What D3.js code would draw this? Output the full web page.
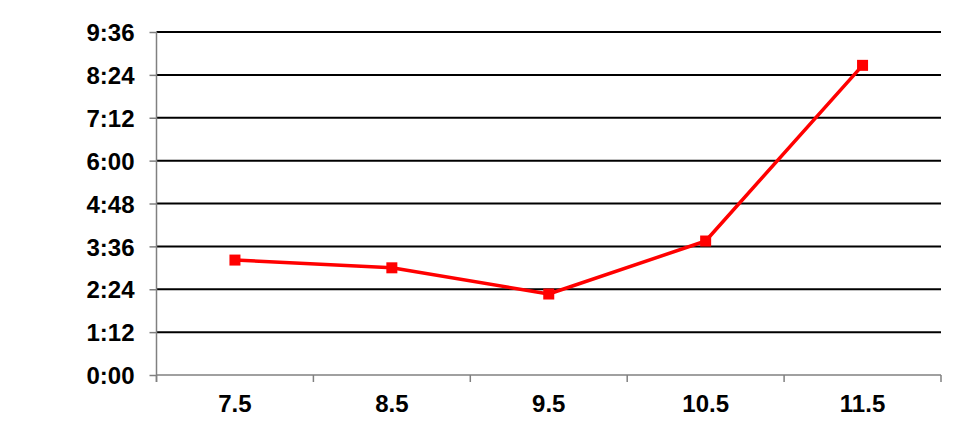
<!DOCTYPE html>
<html>
<head>
<meta charset="utf-8">
<script src="https://cdn.jsdelivr.net/npm/d3@7/dist/d3.min.js"></script>
<style>
  html, body { margin: 0; padding: 0; background: #fff; }
  svg text { font-family: "Liberation Sans", Arial, sans-serif; font-weight: bold; font-size: 24px; fill: #000; }
</style>
</head>
<body>
<svg id="chart" width="972" height="440"></svg>
<script>
const categories = ["7.5", "8.5", "9.5", "10.5", "11.5"];
const durations = ["3:13", "3:00", "2:16", "3:45", "8:40"];
const yTickLabels = ["0:00", "1:12", "2:24", "3:36", "4:48", "6:00", "7:12", "8:24", "9:36"];

const toMin = s => { const [h, m] = s.split(":").map(Number); return h * 60 + m; };
const values = durations.map(toMin);
const yTicks = yTickLabels.map(toMin);

const margin = { top: 32, right: 31, bottom: 65, left: 156.5 };
const W = 972, H = 440;
const svg = d3.select("#chart");

const x = d3.scaleBand().domain(categories).range([margin.left, W - margin.right]).padding(0);
const y = d3.scaleLinear().domain([0, d3.max(yTicks)]).range([H - margin.bottom, margin.top]);

// gridlines
svg.append("g")
  .selectAll("line")
  .data(yTicks.filter(t => t > 0))
  .join("line")
  .attr("x1", margin.left).attr("x2", W - margin.right)
  .attr("y1", d => y(d)).attr("y2", d => y(d))
  .attr("stroke", "#000").attr("stroke-width", 2);

// y axis
const yAxis = svg.append("g")
  .attr("transform", `translate(${margin.left},0)`)
  .call(d3.axisLeft(y).tickValues(yTicks).tickSize(7).tickPadding(15)
    .tickFormat((d, i) => yTickLabels[i]));
yAxis.select(".domain").attr("stroke", "#808080").attr("stroke-width", 1.5)
  .attr("d", `M0,${y(0) + 7}V${margin.top}`);
yAxis.selectAll(".tick line").attr("stroke", "#808080").attr("stroke-width", 1.5);
yAxis.selectAll("text").attr("dy", "0.36em").style("font-family", "'Liberation Sans', Arial, sans-serif")
  .style("font-size", "24px").style("font-weight", "bold").attr("fill", "#000");

// x axis
const xAxisG = svg.append("g").attr("transform", `translate(0,${y(0)})`);
xAxisG.append("line")
  .attr("x1", margin.left).attr("x2", W - margin.right)
  .attr("y1", 0).attr("y2", 0)
  .attr("stroke", "#808080").attr("stroke-width", 1.5);
const bounds = categories.map(c => x(c)).concat([x(categories[categories.length - 1]) + x.bandwidth()]);
xAxisG.selectAll("line.tk")
  .data(bounds)
  .join("line").attr("class", "tk")
  .attr("x1", d => d).attr("x2", d => d)
  .attr("y1", 0).attr("y2", 7)
  .attr("stroke", "#808080").attr("stroke-width", 1.5);
xAxisG.selectAll("text")
  .data(categories)
  .join("text")
  .attr("x", d => x(d) + x.bandwidth() / 2)
  .attr("y", 37)
  .attr("text-anchor", "middle")
  .text(d => d);

// line
const line = d3.line()
  .x((d, i) => x(categories[i]) + x.bandwidth() / 2)
  .y(d => y(d));
svg.append("path")
  .datum(values)
  .attr("d", line)
  .attr("fill", "none")
  .attr("stroke", "#ff0000")
  .attr("stroke-width", 3.5)
  .attr("stroke-linejoin", "round");

// markers
const ms = 11;
svg.append("g")
  .selectAll("rect")
  .data(values)
  .join("rect")
  .attr("x", (d, i) => x(categories[i]) + x.bandwidth() / 2 - ms / 2)
  .attr("y", d => y(d) - ms / 2)
  .attr("width", ms).attr("height", ms)
  .attr("fill", "#ff0000");
</script>
</body>
</html>
